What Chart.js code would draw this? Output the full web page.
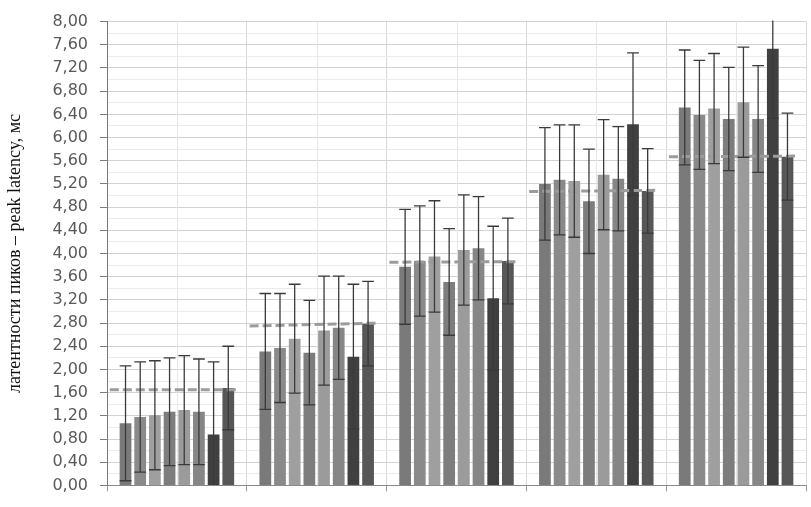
<!DOCTYPE html>
<html>
<head>
<meta charset="utf-8">
<script src="https://cdn.jsdelivr.net/npm/chart.js@4.4.1/dist/chart.umd.min.js"></script>
<style>
  html, body { margin: 0; padding: 0; background: #fff; }
  #wrap { width: 811px; height: 507px; }
</style>
</head>
<body>
<div id="wrap"><canvas id="chrt"></canvas></div>
<script>
// группы (подписи по оси X на рисунке не показаны)
const groups = ["1", "2", "3", "4", "5"];

// латентность пиков, мс — 8 серий по 5 групп
const s1 = [1.07, 2.31, 3.77, 5.20, 6.52];
const s2 = [1.18, 2.37, 3.87, 5.27, 6.39];
const s3 = [1.21, 2.53, 3.95, 5.25, 6.50];
const s4 = [1.27, 2.29, 3.51, 4.90, 6.32];
const s5 = [1.30, 2.67, 4.06, 5.36, 6.61];
const s6 = [1.27, 2.72, 4.09, 5.29, 6.32];
const s7 = [0.88, 2.22, 3.23, 6.23, 7.53];
const s8 = [1.68, 2.79, 3.87, 5.08, 5.67];

// стандартные отклонения (симметричные)
const e1 = [0.99, 1.00, 0.99, 0.97, 0.99];
const e2 = [0.95, 0.94, 0.95, 0.95, 0.94];
const e3 = [0.94, 0.94, 0.96, 0.97, 0.95];
const e4 = [0.93, 0.90, 0.92, 0.90, 0.89];
const e5 = [0.94, 0.94, 0.95, 0.95, 0.95];
const e6 = [0.91, 0.89, 0.89, 0.90, 0.92];
const e7 = [1.25, 1.25, 1.24, 1.23, 1.20];
const e8 = [0.72, 0.73, 0.74, 0.73, 0.75];

// пунктирная линия-ориентир в каждой группе (начало / конец)
const refStart = [1.65, 2.75, 3.85, 5.07, 5.67];
const refEnd = [1.65, 2.80, 3.86, 5.09, 5.68];

// подписи оси Y
const yMin = 0, yMax = 8, yStep = 0.2;

const series = [s1, s2, s3, s4, s5, s6, s7, s8];
const errs = [e1, e2, e3, e4, e5, e6, e7, e8];
const colors = ["#7a7a7a", "#8a8a8a", "#9f9f9f", "#7d7d7d", "#9b9b9b", "#868686", "#404040", "#575757"];

function frmt(v) {
  return v.toFixed(2).replace(".", ",");
}
function isMajor(v) {
  return Math.round(v * 10) % 4 == 0;
}

// тонкие линии сетки по центрам групп
const midGrid = {
  id: "midGrid",
  beforeDatasetsDraw(chart) {
    const ctx = chart.ctx, x = chart.scales.x, a = chart.chartArea;
    ctx.save();
    ctx.strokeStyle = "#e6e6e6";
    ctx.lineWidth = 1;
    groups.forEach((g, i) => {
      const px = Math.round(x.getPixelForValue(i)) + 0.5;
      ctx.beginPath();
      ctx.moveTo(px, a.top);
      ctx.lineTo(px, a.bottom);
      ctx.stroke();
    });
    ctx.restore();
  },
};

// пунктир-ориентир и планки погрешностей
const errBars = {
  id: "errBars",
  afterDatasetsDraw(chart) {
    const ctx = chart.ctx;
    const x = chart.scales.x;
    const y = chart.scales.y;
    const a = chart.chartArea;
    const cw = x.getPixelForValue(1) - x.getPixelForValue(0);
    ctx.save();
    ctx.beginPath();
    ctx.rect(a.left, a.top - 1, a.right - a.left, a.bottom - a.top + 1);
    ctx.clip();

    ctx.strokeStyle = "#9c9c9c";
    ctx.lineWidth = 3;
    ctx.setLineDash([9, 4]);
    groups.forEach((g, i) => {
      const c = x.getPixelForValue(i);
      ctx.beginPath();
      ctx.moveTo(c - 0.48 * cw, y.getPixelForValue(refStart[i]));
      ctx.lineTo(c + 0.45 * cw, y.getPixelForValue(refEnd[i]));
      ctx.stroke();
    });
    ctx.setLineDash([]);

    ctx.strokeStyle = "#3a3a3a";
    ctx.lineWidth = 1.3;
    series.forEach((s, i) => {
      const meta = chart.getDatasetMeta(i);
      meta.data.forEach((bar, j) => {
        const v = s[j], e = errs[i][j];
        const yt = y.getPixelForValue(v + e);
        const lo = v - e;
        const yb = y.getPixelForValue(Math.max(0, lo));
        const hw = bar.width / 2;
        ctx.beginPath();
        ctx.moveTo(bar.x, yt);
        ctx.lineTo(bar.x, yb);
        ctx.moveTo(bar.x - hw, yt);
        ctx.lineTo(bar.x + hw, yt);
        if (lo >= 0) {
          ctx.moveTo(bar.x - hw, yb);
          ctx.lineTo(bar.x + hw, yb);
        }
        ctx.stroke();
      });
    });
    ctx.restore();
  },
};

const datasets = series.map((s, i) => ({
  data: s,
  backgroundColor: colors[i],
  categoryPercentage: 0.84,
  barPercentage: 0.8,
}));

new Chart(document.getElementById("chrt"), {
  type: "bar",
  data: { labels: groups, datasets: datasets },
  plugins: [midGrid, errBars],
  options: {
    responsive: true,
    maintainAspectRatio: false,
    animation: false,
    layout: { padding: { left: 0, top: 21, right: 5, bottom: 0 } },
    plugins: { legend: { display: false }, tooltip: { enabled: false } },
    scales: {
      x: {
        ticks: { display: false },
        grid: { color: "#d9d9d9", tickColor: "#9a9a9a", tickLength: 6 },
        border: { color: "#8a8a8a" },
        afterFit: (sc) => { sc.height = 16; },
      },
      y: {
        min: yMin,
        max: yMax,
        ticks: {
          stepSize: yStep,
          autoSkip: false,
          padding: 12,
          color: "#595959",
          font: { family: "DejaVu Sans", size: 16 },
          callback: (v) => (isMajor(v) ? frmt(v) : ""),
        },
        grid: {
          color: (c) => (c.tick && isMajor(c.tick.value) ? "#d2d2d2" : "#ebebeb"),
          tickColor: (c) => (c.tick && isMajor(c.tick.value) ? "#7f7f7f" : "rgba(0,0,0,0)"),
          tickLength: 7,
        },
        border: { color: "#7a7a7a" },
        title: {
          display: true,
          text: "латентности пиков – peak latency, мс",
          color: "#111",
          font: { family: "Liberation Serif", size: 18 },
          padding: { top: 4, bottom: 0 },
        },
        afterFit: (sc) => { sc.width = 107; },
      },
    },
  },
});
</script>
</body>
</html>
